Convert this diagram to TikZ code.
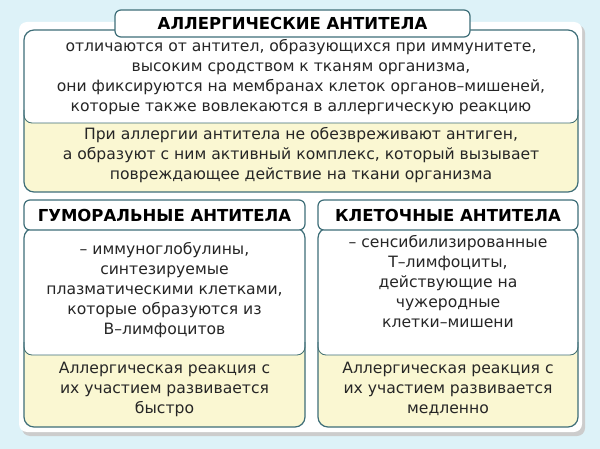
\documentclass[tikz,border=0pt]{standalone}
\usepackage{fontspec}
\setmainfont{DejaVu Sans}
\definecolor{bg}{HTML}{DDF2F8}
\definecolor{frm}{HTML}{3E6E78}
\definecolor{yel}{HTML}{FAF7D2}
\begin{document}
\begin{tikzpicture}[x=1pt,y=-1pt,
  txt/.style={align=center,font=\fontsize{15.6}{20}\selectfont,text=black!85},
  ttl/.style={align=center,font=\bfseries\fontsize{16.5}{18}\selectfont},
  fr/.style={draw=frm,line width=1.2pt,rounded corners=10pt}]
\useasboundingbox (0,0) rectangle (600,449);
\fill[bg] (0,0) rectangle (600,449);
\fill[black!20,rounded corners=8pt] (22,25) rectangle (585,436);
\fill[white,rounded corners=8pt] (19,22) rectangle (582,432);
% top block
\fill[yel,rounded corners=10pt] (24,30) rectangle (578,192);
\fill[white,rounded corners=10pt] (24,30) rectangle (578,123);
\draw[frm,line width=0.8pt,rounded corners=8pt] (24,110) -- (24,123) -- (578,123) -- (578,110);
\draw[fr] (24,30) rectangle (578,192);
\node[fr,fill=white,minimum width=355pt,minimum height=27pt,rounded corners=6pt] (t0) at (292.5,23.5) {};
\node[ttl] at (t0) {АЛЛЕРГИЧЕСКИЕ АНТИТЕЛА};
\node[txt] (b0) at (301,77) {отличаются от антител, образующихся при иммунитете,\\высоким сродством к тканям организма,\\они фиксируются на мембранах клеток органов–мишеней,\\которые также вовлекаются в аллергическую реакцию};
\node[txt] (y0) at (301,155) {При аллергии антитела не обезвреживают антиген,\\а образуют с ним активный комплекс, который вызывает\\повреждающее действие на ткани организма};
% left
\fill[yel,rounded corners=10pt] (24,228) rectangle (305,427);
\fill[white,rounded corners=10pt] (24,228) rectangle (305,355);
\draw[frm,line width=0.8pt,rounded corners=8pt] (24,342) -- (24,355) -- (305,355) -- (305,342);
\draw[fr] (24,228) rectangle (305,427);
\node[fr,fill=white,minimum width=281pt,minimum height=30pt,rounded corners=6pt] (t1) at (164.5,215) {};
\node[ttl] at (t1) {ГУМОРАЛЬНЫЕ АНТИТЕЛА};
\node[txt] (b1) at (164.5,290) {– иммуноглобулины,\\синтезируемые\\плазматическими клетками,\\которые образуются из\\В–лимфоцитов};
\node[txt] (y1) at (164.5,389) {Аллергическая реакция с\\их участием развивается\\быстро};
% right
\fill[yel,rounded corners=10pt] (318,228) rectangle (578,427);
\fill[white,rounded corners=10pt] (318,228) rectangle (578,355);
\draw[frm,line width=0.8pt,rounded corners=8pt] (318,342) -- (318,355) -- (578,355) -- (578,342);
\draw[fr] (318,228) rectangle (578,427);
\node[fr,fill=white,minimum width=260pt,minimum height=30pt,rounded corners=6pt] (t2) at (448,215) {};
\node[ttl] at (t2) {КЛЕТОЧНЫЕ АНТИТЕЛА};
\node[txt] (b2) at (448,282) {– сенсибилизированные\\Т–лимфоциты,\\действующие на\\чужеродные\\клетки–мишени};
\node[txt] (y2) at (448,389) {Аллергическая реакция с\\их участием развивается\\медленно};
\end{tikzpicture}
\end{document}
